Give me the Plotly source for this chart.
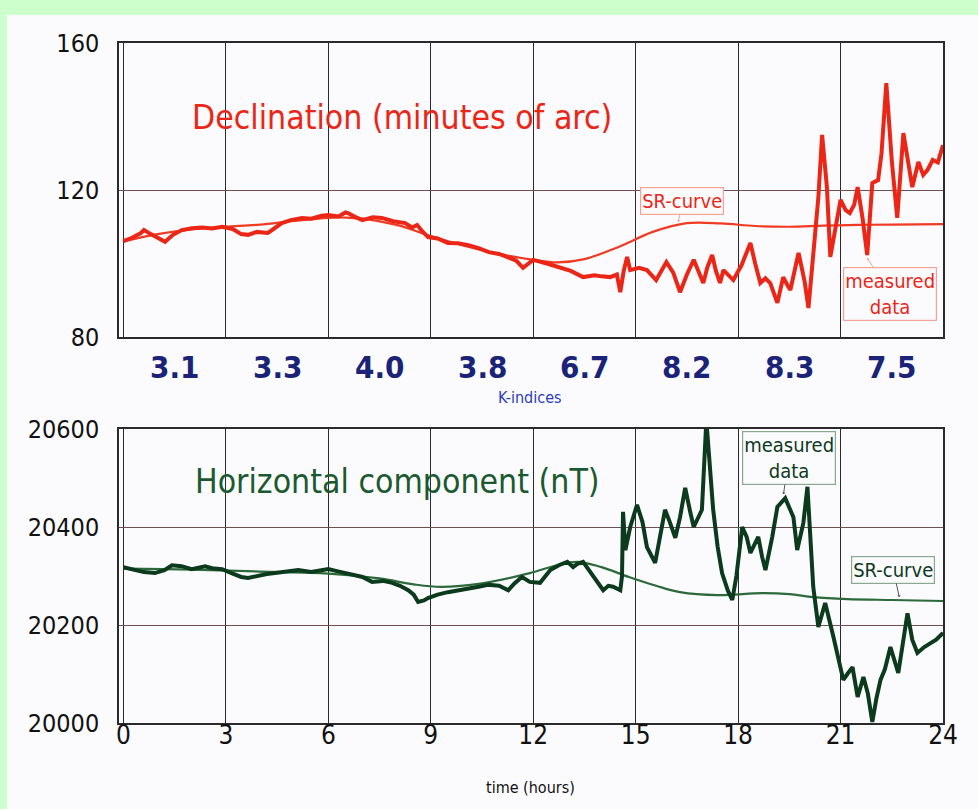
import plotly.graph_objects as go

# ---------------- data ----------------
K_INDICES = ["3.1", "3.3", "4.0", "3.8", "6.7", "8.2", "8.3", "7.5"]
X_TICKS = [0, 3, 6, 9, 12, 15, 18, 21, 24]

dec_t = [0, 0.25, 0.5, 0.6, 0.8, 1.0, 1.22, 1.45, 1.71, 2.0,
         2.3, 2.6, 2.89, 3.2, 3.45, 3.65, 3.9, 4.23, 4.45, 4.64,
         4.9, 5.23, 5.5, 5.8, 6.0, 6.3, 6.5, 6.58, 6.8, 7.0,
         7.3, 7.57, 7.9, 8.25, 8.45, 8.6, 8.75, 8.92, 9.2, 9.5,
         9.8, 10.1, 10.4, 10.7, 11.0, 11.27, 11.5, 11.7, 11.85, 12.0,
         12.4, 12.8, 13.1, 13.46, 13.8, 14.0, 14.25, 14.45, 14.55, 14.65,
         14.75, 14.84, 15.1, 15.33, 15.6, 15.9, 16.1, 16.3, 16.5, 16.7,
         16.85, 16.98, 17.1, 17.24, 17.35, 17.47, 17.57, 17.7, 17.86, 18.1,
         18.36, 18.5, 18.65, 18.8, 18.94, 19.15, 19.32, 19.45, 19.53, 19.77,
         19.95, 20.06, 20.2, 20.35, 20.46, 20.6, 20.7, 20.9, 21.0, 21.15,
         21.27, 21.4, 21.5, 21.65, 21.78, 21.93, 22.1, 22.2, 22.34, 22.5,
         22.66, 22.84, 23.0, 23.1, 23.28, 23.42, 23.55, 23.7, 23.85, 24.0]
dec_measured = [106.1, 107.0, 108.2, 109.1, 108.0, 107.0, 105.9, 107.8, 109.1, 109.6,
                109.8, 109.5, 110.0, 109.4, 108.0, 107.8, 108.6, 108.3, 109.8, 111.0,
                111.8, 112.4, 112.2, 113.0, 113.2, 112.8, 113.9, 113.7, 112.6, 111.8,
                112.6, 112.4, 111.5, 111.0, 109.8, 110.5, 108.8, 107.2, 106.8, 105.6,
                105.5, 105.0, 104.2, 103.1, 102.6, 101.5, 100.8, 98.8, 99.8, 101.0,
                100.0, 99.0, 98.0, 96.3, 96.8, 96.5, 96.3, 97.0, 92.2, 98.0,
                101.8, 98.2, 98.8, 98.2, 95.5, 100.4, 97.5, 92.2, 97.0, 101.0,
                97.5, 94.7, 99.0, 102.3, 98.0, 94.7, 98.2, 97.0, 95.5, 99.5,
                105.6, 100.0, 94.7, 96.0, 94.7, 89.3, 96.3, 94.0, 92.8, 102.9,
                95.0, 87.9, 101.8, 118.0, 135.0, 120.8, 101.8, 111.8, 117.3, 114.5,
                113.7, 116.0, 120.8, 112.0, 102.3, 121.9, 122.7, 130.0, 149.1, 128.0,
                112.4, 135.5, 126.0, 120.8, 127.6, 124.1, 125.5, 128.2, 127.5, 132.2]

dec_sr_t = [0, 1, 2, 3, 4, 5, 6, 6.5, 7, 8,
            9, 10, 11, 12, 12.7, 13.5, 14.5, 15.5, 16.5, 17.5,
            18.5, 19.5, 20.5, 21.5, 22.5, 24]
dec_sr = [106, 108, 109.3, 110, 110.6, 111.6, 112.4, 112.5, 112.2, 110.5,
          107.5, 104.8, 102.6, 101, 100.3, 101.2, 104.5, 108.6, 111, 110.9,
          110.2, 110, 110.3, 110.5, 110.6, 110.7]

hor_t = [0, 0.3, 0.6, 0.92, 1.2, 1.42, 1.7, 2.0, 2.2, 2.39,
         2.6, 2.89, 3.2, 3.45, 3.65, 3.9, 4.2, 4.44, 4.8, 5.12,
         5.5, 5.8, 6.0, 6.25, 6.5, 6.75, 7.0, 7.28, 7.6, 7.87,
         8.1, 8.34, 8.5, 8.63, 8.8, 8.92, 9.2, 9.5, 9.8, 10.1,
         10.4, 10.68, 11.0, 11.27, 11.45, 11.67, 11.9, 12.2, 12.5, 12.75,
         13.0, 13.17, 13.3, 13.46, 13.6, 13.76, 14.05, 14.2, 14.34, 14.55,
         14.6, 14.63, 14.7, 14.84, 15.04, 15.2, 15.33, 15.57, 15.7, 15.86,
         16.0, 16.16, 16.3, 16.45, 16.6, 16.7, 16.94, 17.07, 17.27, 17.4,
         17.53, 17.7, 17.83, 17.95, 18.12, 18.25, 18.36, 18.59, 18.7, 18.8,
         19.0, 19.15, 19.38, 19.5, 19.62, 19.73, 19.91, 20.03, 20.12, 20.2,
         20.35, 20.55, 20.79, 20.95, 21.08, 21.2, 21.35, 21.5, 21.67, 21.8,
         21.93, 22.05, 22.17, 22.3, 22.46, 22.69, 22.96, 23.1, 23.25, 23.45,
         23.63, 23.8, 24.0]
hor_measured = [20318, 20312, 20308, 20306, 20312, 20322, 20320, 20314, 20318, 20320,
                20316, 20314, 20305, 20298, 20296, 20300, 20304, 20306, 20310, 20312,
                20308, 20312, 20314, 20310, 20306, 20302, 20298, 20288, 20290, 20286,
                20280, 20271, 20262, 20247, 20250, 20255, 20262, 20267, 20270, 20275,
                20278, 20282, 20280, 20271, 20285, 20298, 20288, 20286, 20312, 20322,
                20329, 20318, 20325, 20329, 20315, 20298, 20271, 20280, 20278, 20271,
                20300, 20431, 20353, 20400, 20445, 20410, 20359, 20327, 20380, 20435,
                20410, 20378, 20420, 20480, 20430, 20400, 20435, 20618, 20435, 20360,
                20306, 20270, 20251, 20300, 20400, 20380, 20347, 20380, 20340, 20312,
                20380, 20441, 20459, 20440, 20420, 20353, 20408, 20482, 20380, 20278,
                20196, 20245, 20176, 20130, 20088, 20100, 20114, 20053, 20094, 20060,
                20002, 20050, 20088, 20110, 20155, 20102, 20224, 20170, 20143, 20155,
                20163, 20170, 20184]

hor_sr_t = [0, 2, 4, 6, 7.5, 8.5, 9.3, 10.5, 11.9, 12.7,
            13.3, 14, 14.8, 15.6, 16.3, 17.4, 18.7, 19.5, 20.2, 21.2,
            22.5, 24]
hor_sr = [20315, 20313, 20309, 20305, 20295, 20283, 20278, 20285, 20306, 20322,
          20329, 20318, 20298, 20280, 20267, 20261, 20265, 20263, 20257, 20253,
          20251, 20249]

# ---------------- styles ----------------
W, H = 978, 809
COND = "DejaVu Sans Condensed, DejaVu Sans, sans-serif"
RED = "#ec2616"
GREEN_DARK = "#0c3a1c"
GREEN_SR = "#2c6a3c"
BG = "#fbfbfe"

def px_x(p):
    return p / W

def px_y(p):
    return 1 - p / H

fig = go.Figure()

fig.add_trace(go.Scatter(x=dec_sr_t, y=dec_sr, mode="lines", xaxis="x", yaxis="y",
                         line=dict(color="#f03a22", width=2.2, shape="spline"),
                         hoverinfo="skip", showlegend=False))
fig.add_trace(go.Scatter(x=dec_t, y=dec_measured, mode="lines", xaxis="x", yaxis="y",
                         line=dict(color=RED, width=4), showlegend=False))
fig.add_trace(go.Scatter(x=hor_sr_t, y=hor_sr, mode="lines", xaxis="x2", yaxis="y2",
                         line=dict(color=GREEN_SR, width=2.2, shape="spline"),
                         hoverinfo="skip", showlegend=False))
fig.add_trace(go.Scatter(x=hor_t, y=hor_measured, mode="lines", xaxis="x2", yaxis="y2",
                         line=dict(color=GREEN_DARK, width=4), showlegend=False))

xdom = [px_x(119), px_x(943)]
xcommon = dict(range=[-0.13, 24], tickvals=X_TICKS, showgrid=True, gridcolor="#2a2a2a",
               gridwidth=1.3, showline=True, mirror=True, linecolor="#2a2a2a",
               linewidth=1.5, zeroline=False, ticks="", domain=xdom, automargin=False)
ycommon = dict(showgrid=True, gridcolor="#6e4f52", gridwidth=1.3, showline=True,
               mirror=True, linecolor="#2a2a2a", linewidth=1.5, zeroline=False,
               ticks="", ticklabelstandoff=13, tickformat="d", automargin=False,
               tickfont=dict(family=COND, size=25, color="#111111"))

fig.update_layout(
    width=W, height=H,
    margin=dict(l=0, r=0, t=0, b=0, pad=0, autoexpand=False),
    paper_bgcolor="#ccffcc",
    plot_bgcolor=BG,
    showlegend=False,
    xaxis=dict(**xcommon, anchor="y", showticklabels=False),
    yaxis=dict(**ycommon, domain=[px_y(337), px_y(43)], range=[80, 160],
               tickvals=[80, 120, 160], anchor="x"),
    xaxis2=dict(**xcommon, anchor="y2", showticklabels=True,
                tickfont=dict(family=COND, size=26, color="#111111"),
                ticklabelstandoff=-12),
    yaxis2=dict(**ycommon, domain=[px_y(723), px_y(429)], range=[20000, 20600],
                tickvals=[20000, 20200, 20400, 20600], anchor="x2"),
    shapes=[dict(type="rect", xref="paper", yref="paper", x0=px_x(7), x1=1.0,
                 y0=0, y1=px_y(15), fillcolor=BG, line=dict(width=0), layer="below")],
)

ann = []
for i, k in enumerate(K_INDICES):
    ann.append(dict(x=1.5 + 3 * i, y=px_y(367), xref="x", yref="paper", text=k,
                    showarrow=False, xanchor="center", yanchor="middle",
                    font=dict(family=COND, size=31, color="#1a2378", weight="bold")))
ann.append(dict(x=px_x(530), y=px_y(397), xref="paper", yref="paper", text="K-indices",
                showarrow=False, yanchor="middle",
                font=dict(family=COND, size=16, color="#2a3cc0")))
ann.append(dict(x=px_x(530), y=px_y(787), xref="paper", yref="paper", text="time (hours)",
                showarrow=False, yanchor="middle",
                font=dict(family=COND, size=16, color="#111111")))
ann.append(dict(x=px_x(190), y=px_y(117), xref="paper", yref="paper",
                text="Declination (minutes of arc)", showarrow=False, xanchor="left",
                yanchor="middle", font=dict(family=COND, size=33.5, color=RED)))
ann.append(dict(x=px_x(193), y=px_y(482), xref="paper", yref="paper",
                text="Horizontal component (nT)", showarrow=False, xanchor="left",
                yanchor="middle", font=dict(family=COND, size=33.5, color="#1b5a30")))

box_common = dict(showarrow=True, arrowhead=1, arrowsize=0.6, arrowwidth=1,
                  borderwidth=1.2, borderpad=1, bgcolor=BG, axref="pixel", ayref="pixel")
ann.append(dict(**box_common, x=16.25, y=111.3, xref="x", yref="y", ax=4, ay=-21,
                text="SR-curve", font=dict(family=COND, size=20, color=RED),
                bordercolor="#f2a595", arrowcolor="#f2a595"))
ann.append(dict(**box_common, x=21.78, y=101.5, xref="x", yref="y", ax=23, ay=36,
                text="measured<br>data", font=dict(family=COND, size=20, color=RED),
                bordercolor="#f2a595", arrowcolor="#f2a595"))
ann.append(dict(**box_common, x=19.33, y=20467, xref="x2", yref="y2", ax=5, ay=-36,
                text="measured<br>data", font=dict(family=COND, size=20, color=GREEN_DARK),
                bordercolor="#8aa890", arrowcolor="#555555"))
ann.append(dict(**box_common, x=22.72, y=20257, xref="x2", yref="y2", ax=-6, ay=-27,
                text="SR-curve", font=dict(family=COND, size=20, color=GREEN_DARK),
                bordercolor="#8aa890", arrowcolor="#555555"))
fig.update_layout(annotations=ann)

fig.write_html("out.html")
